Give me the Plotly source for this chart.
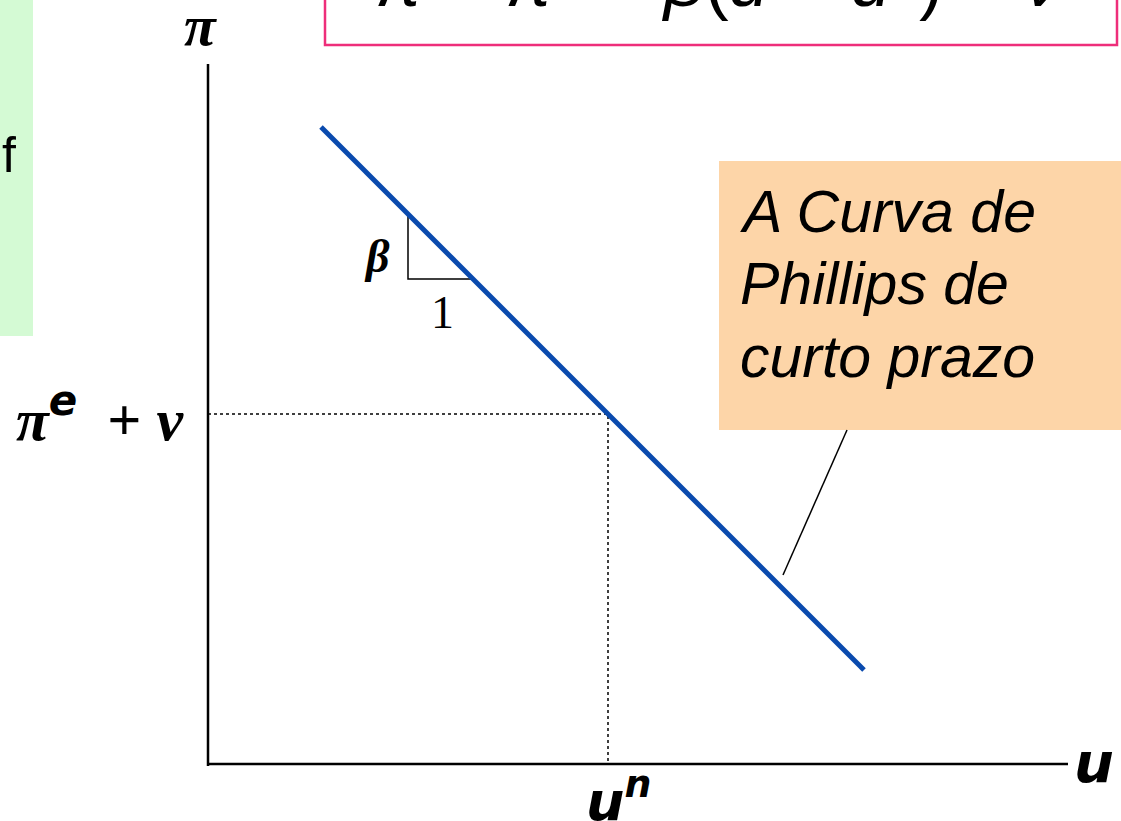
import plotly.graph_objects as go

# ---- model values (diagram units) ----
u_natural = 4.0          # u^n
pi_equilibrium = 3.5     # pi^e + nu
beta = 1.0               # slope
curve_u = [1.13, 6.56]   # extent of the short-run Phillips curve
triangle_u = 2.0
triangle_run = 0.65
axis_u_max = 8.6
axis_pi_max = 7.0

# labels
curve_label = ["A Curva de", "Phillips de", "curto prazo"]
curve_label_pi = [5.52, 4.80, 4.07]
formula = "<i>π</i> = <i>π</i><sup>e</sup> − <i>β</i>(<i>u</i> − <i>u</i><sup>n</sup>) + <i>ν</i>"

def phillips(u):
    return pi_equilibrium - beta * (u - u_natural)

curve_pi = [phillips(u) for u in curve_u]

fig = go.Figure()

# axes
fig.add_trace(go.Scatter(x=[0, 0], y=[-0.02, axis_pi_max], mode="lines",
                         line=dict(color="black", width=2.5), hoverinfo="skip"))
fig.add_trace(go.Scatter(x=[0, axis_u_max], y=[0, 0], mode="lines",
                         line=dict(color="black", width=2.5), hoverinfo="skip"))

# dotted guide lines
fig.add_trace(go.Scatter(x=[0, u_natural, u_natural], y=[pi_equilibrium, pi_equilibrium, 0],
                         mode="lines", line=dict(color="black", width=1.5, dash="dot"),
                         hoverinfo="skip"))

# slope triangle
t_top = phillips(triangle_u)
t_bot = t_top - beta * triangle_run
fig.add_trace(go.Scatter(x=[triangle_u, triangle_u, triangle_u + triangle_run],
                         y=[t_top, t_bot, t_bot], mode="lines",
                         line=dict(color="black", width=1.5), hoverinfo="skip"))

# callout line
fig.add_trace(go.Scatter(x=[5.75, 6.39], y=[1.89, 3.34], mode="lines",
                         line=dict(color="black", width=1.5), hoverinfo="skip"))

# Phillips curve
fig.add_trace(go.Scatter(x=curve_u, y=curve_pi, mode="lines",
                         line=dict(color="#0A4AAE", width=5), hoverinfo="skip"))

shapes = [
    # green side panel (cropped)
    dict(type="rect", x0=-2.2, x1=-1.75, y0=4.28, y1=8.0, fillcolor="#D4FAD4",
         line=dict(width=0), layer="below"),
    # pink formula box (cropped)
    dict(type="rect", x0=1.17, x1=9.09, y0=7.19, y1=8.2, fillcolor="white",
         line=dict(color="#EE2E7A", width=2.5), layer="below"),
    # orange label box
    dict(type="rect", x0=5.11, x1=9.3, y0=3.34, y1=6.03, fillcolor="#FDD5A8",
         line=dict(width=0), layer="below"),
]

serif_bi = "Liberation Serif"
sans_sup = '<span style="font-family:DejaVu Sans">'
ann = [
    dict(x=-0.08, y=7.39, text="<b><i>π</i></b>", font=dict(family=serif_bi, size=58, color="black")),
    dict(x=-1.08, y=3.5,
         text="<b><i>π</i><sup>" + sans_sup + "<i>e</i></span></sup>  + <i>ν</i></b>",
         font=dict(family=serif_bi, size=60, color="black")),
    dict(x=1.69, y=5.08, text="<b><i>β</i></b>", font=dict(family=serif_bi, size=46, color="black")),
    dict(x=2.34, y=4.52, text="1", font=dict(family=serif_bi, size=46, color="black")),
    dict(x=8.86, y=0.02, text="<b><i>u</i></b>", font=dict(family="DejaVu Sans", size=56, color="black")),
    dict(x=4.1, y=-0.33, text="<b><i>u</i><sup><i>n</i></sup></b>",
         font=dict(family="DejaVu Sans", size=54, color="black")),
    dict(x=5.10, y=1.030, yref="paper", text=formula,
         font=dict(family="Liberation Sans", size=72, color="black")),
    dict(x=0.0, xref="paper", y=6.09, text="f", xanchor="left",
         font=dict(family="Liberation Sans", size=50, color="black")),
]
for line, ypos in zip(curve_label, curve_label_pi):
    ann.append(dict(x=5.30, y=ypos, text="<i>" + line + "</i>", xanchor="left", align="left",
                    font=dict(family="Liberation Sans", size=59, color="black")))
for a in ann:
    a.setdefault("showarrow", False)
    a.setdefault("xanchor", "center")
    a.setdefault("yanchor", "middle")

fig.update_layout(
    width=1121, height=821,
    margin=dict(l=0, r=0, t=0, b=0),
    paper_bgcolor="white", plot_bgcolor="white",
    showlegend=False,
    shapes=shapes,
    annotations=ann,
    xaxis=dict(range=[-2.08, 9.13], visible=False, fixedrange=True),
    yaxis=dict(range=[-0.57, 7.64], visible=False, fixedrange=True),
)

fig.write_html("out.html", config={"displayModeBar": False},
               post_script="document.body.style.margin='0';document.body.style.overflow='hidden';")
